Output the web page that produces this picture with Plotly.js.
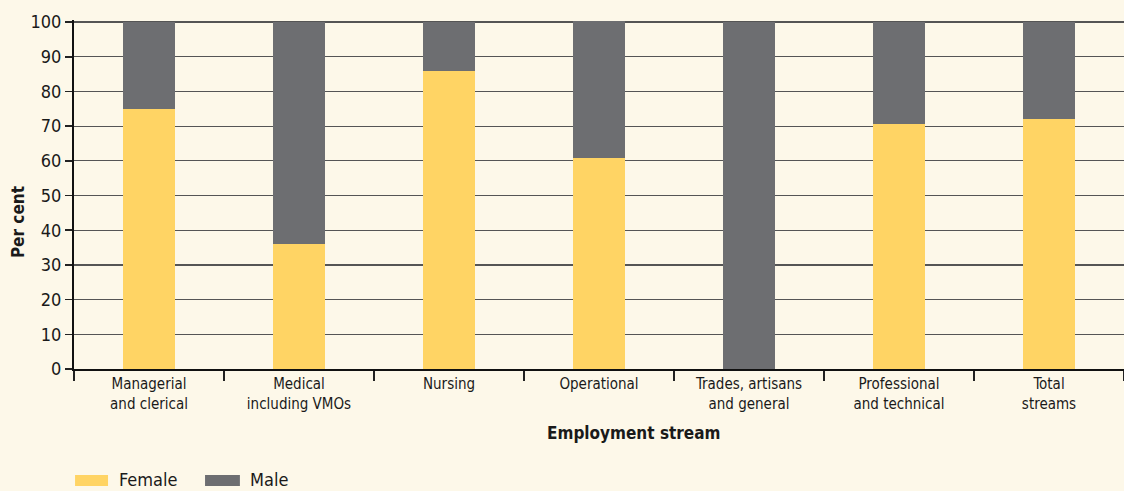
<!DOCTYPE html>
<html>
<head>
<meta charset="utf-8">
<script src="https://cdn.plot.ly/plotly-3.0.1.min.js"></script>
<style>html,body{margin:0;padding:0;background:#fdf8e9;}#chart{width:1124px;height:491px;}</style>
</head>
<body>
<div id="chart"></div>
<script>
const categories = [
  "Managerial<br>and clerical",
  "Medical<br>including VMOs",
  "Nursing",
  "Operational",
  "Trades, artisans<br>and general",
  "Professional<br>and technical",
  "Total<br>streams"
];
const female = [75, 36, 86, 60.8, 0, 70.5, 72];
const male = [25, 64, 14, 39.6, 100, 29.5, 28];
const yTicks = [0, 10, 20, 30, 40, 50, 60, 70, 80, 90, 100];
const seriesNames = ["Female", "Male"];
const seriesColors = ["#ffd464", "#6d6e71"];

const FONT = "'DejaVu Sans Condensed', 'Roboto Condensed', sans-serif";

const traces = [
  {type: "bar", name: seriesNames[0], x: categories, y: female, width: 0.35,
   marker: {color: seriesColors[0]}, hoverinfo: "y"},
  {type: "bar", name: seriesNames[1], x: categories, y: male, width: 0.35,
   marker: {color: seriesColors[1]}, hoverinfo: "y"}
];

// custom legend (wide swatches, as in the reference)
const legendItems = [
  {x0: 0.001, x1: 0.0324, tx: 0.041},
  {x0: 0.1248, x1: 0.158, tx: 0.1657}
];
const shapes = legendItems.map((it, i) => ({
  type: "rect", xref: "paper", yref: "paper",
  x0: it.x0, x1: it.x1, y0: -0.335, y1: -0.304,
  fillcolor: seriesColors[i], line: {width: 0}
}));
const legendText = legendItems.map((it, i) => ({
  text: seriesNames[i], xref: "paper", yref: "paper",
  x: it.tx, y: -0.317, xanchor: "left", yanchor: "middle", showarrow: false,
  font: {size: 18, family: FONT, color: "#1a1a1a"}
}));

const layout = {
  width: 1124, height: 491,
  barmode: "stack",
  paper_bgcolor: "#fdf8e9",
  plot_bgcolor: "#fdf8e9",
  margin: {l: 74, r: 0, t: 20, b: 122},
  font: {family: FONT, color: "#1a1a1a", size: 16},
  showlegend: false,
  xaxis: {
    type: "category",
    tickson: "boundaries",
    ticks: "outside", ticklen: 10, tickwidth: 1.5, tickcolor: "#222",
    showline: true, linecolor: "#111", linewidth: 2,
    showgrid: false,
    tickfont: {size: 15, family: FONT},
    range: [-0.5, 6.5],
    automargin: false
  },
  yaxis: {
    range: [0, 100.6],
    tickvals: yTicks,
    ticktext: yTicks.map(String),
    ticks: "outside", ticklen: 7, tickwidth: 1.5, tickcolor: "#222",
    showline: true, linecolor: "#111", linewidth: 2,
    showgrid: true, gridcolor: "#555555", gridwidth: 1.2,
    zeroline: false,
    tickfont: {size: 18, family: FONT},
    automargin: false
  },
  shapes: shapes,
  annotations: [
    {text: "<b>Employment stream</b>", xref: "paper", yref: "paper",
     x: 0.533, y: -0.15, xanchor: "center", yanchor: "top", showarrow: false,
     font: {size: 17, family: FONT}},
    {text: "<b>Per cent</b>", xref: "paper", yref: "paper", textangle: -90,
     x: -0.0533, y: 0.421, xanchor: "center", yanchor: "middle", showarrow: false,
     font: {size: 17, family: FONT}}
  ].concat(legendText)
};

Plotly.newPlot("chart", traces, layout, {displayModeBar: false, staticPlot: true});
</script>
</body>
</html>
